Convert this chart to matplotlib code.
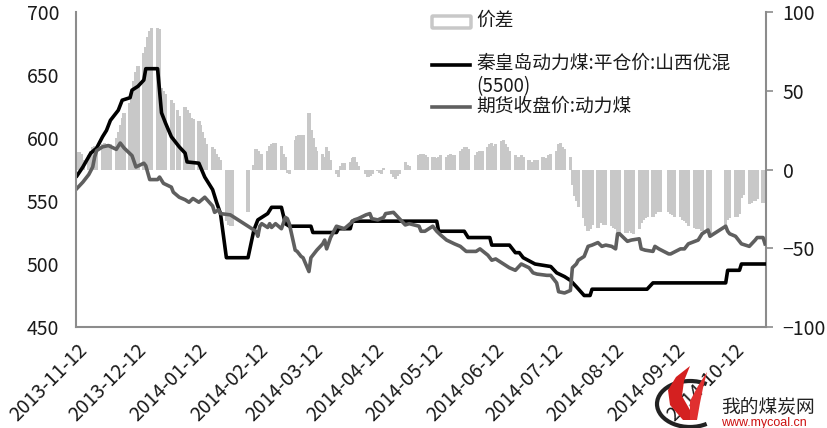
import matplotlib
matplotlib.use('Agg')
import matplotlib.pyplot as plt
import matplotlib.patches as mpatches
import matplotlib.transforms as mtransforms
from matplotlib.lines import Line2D
import pandas as pd

plt.rcParams['font.family'] = ['Noto Sans CJK SC', 'DejaVu Sans']

# trading days for the spread bars
start_day = '2013-11-12'
end_day = '2014-10-28'
holidays = ['2014-01-01', '2014-01-31', '2014-02-03', '2014-02-04', '2014-02-05',
            '2014-02-06', '2014-04-07', '2014-05-01', '2014-05-02', '2014-06-02',
            '2014-09-08', '2014-10-01', '2014-10-02', '2014-10-03', '2014-10-06',
            '2014-10-07']

# 价差, one value per trading day (week by week)
spread = [
    8, 11, 10, 6,
    9, 12, 14, 15, 15,
    16, 17, 16, 15, 16,
    20, 24, 28, 33, 36,
    42, 46, 56, 62, 66,
    74, 78, 84, 88, 90,
    90, 89, 52, 50, 48,
    44, 42, 38, 34,
    40, 38, 36, 33, 32,
    31, 28, 24, 20, 16,
    14, 13, 10, 8, 6,
    -33, -35, -36, -36,
    -27,
    3, 13, 12, 8, 10,
    12, 15, 16, 17, 17,
    15, 10, 8, -2, -3,
    19, 21, 22, 22, 22,
    36, 25, 20, 14, 12,
    10, 8, 14, 12, 6,
    -3, -5, 2, 4, 4,
    5, 7, 8, 5, 2,
    -3, -5, -4, -3,
    -1, -2, -3, 1, 0,
    -3, -5, -6, -4, -3,
    5, 3, 2,
    9, 10, 10, 9, 8,
    8, 8, 7, 8, 9,
    8, 9, 10, 9, 9,
    12, 13, 14, 14, 13,
    9, 11, 12, 12,
    14, 16, 17, 15, 16,
    18, 19, 16, 14, 12,
    9, 8, 8, 9, 8,
    6, 5, 5, 6, 6,
    8, 7, 6, 9, 10,
    12, 16, 17, 14, 13,
    8, -10, -17, -20, -24,
    -31, -36, -39, -38, -35,
    -37, -34, -34, -35, -35,
    -36, -37, -38, -40, -40,
    -40, -40, -39, -40, -41,
    -38, -34, -32, -31, -30,
    -30, -28, -27, -26, -27,
    -27, -28, -29, -30,
    -30, -32, -33, -34, -36,
    -37, -38, -38, -38, -39,
    -39, -40,
    -35, -32, -31,
    -30, -30, -28, -18, -16,
    -22, -21, -20, -20, -19,
    -21, -19,
]

# 秦皇岛动力煤:平仓价:山西优混(5500)
spot_dates = ['2013-11-12', '2013-11-15', '2013-11-19', '2013-11-22', '2013-11-25',
              '2013-11-27', '2013-11-29', '2013-12-03', '2013-12-05', '2013-12-09',
              '2013-12-10', '2013-12-13', '2013-12-16', '2013-12-17', '2013-12-23',
              '2013-12-25', '2013-12-27', '2013-12-30', '2014-01-03', '2014-01-06',
              '2014-01-07', '2014-01-13', '2014-01-16', '2014-01-20', '2014-01-22',
              '2014-01-24', '2014-01-27', '2014-02-07', '2014-02-10', '2014-02-12',
              '2014-02-17', '2014-02-19', '2014-02-24', '2014-02-26', '2014-02-28',
              '2014-03-11', '2014-03-12', '2014-03-24', '2014-03-25', '2014-03-31',
              '2014-04-01', '2014-05-14', '2014-05-15', '2014-05-28', '2014-05-30',
              '2014-06-10', '2014-06-11', '2014-06-20', '2014-06-23', '2014-06-25',
              '2014-06-27', '2014-07-03', '2014-07-11', '2014-07-14', '2014-07-18',
              '2014-07-21', '2014-07-24', '2014-07-28', '2014-07-31', '2014-08-01',
              '2014-08-29', '2014-09-01', '2014-10-08', '2014-10-09', '2014-10-15',
              '2014-10-16', '2014-10-28']
spot_prices = [570, 577, 588, 592, 601,
               606, 614, 622, 630, 632,
               638, 641, 646, 655, 655,
               620, 612, 601, 593, 588,
               581, 580, 569, 559, 549,
               540, 505, 505, 527, 535,
               540, 545, 545, 532, 530,
               530, 525, 525, 528, 528,
               534, 534, 526, 526, 521,
               521, 515, 515, 509, 509,
               505, 500, 498, 493, 490,
               487, 482, 475, 475, 480,
               480, 485, 485, 495, 495,
               500, 500]

# 期货收盘价:动力煤
fut_dates = ['2013-11-12', '2013-11-15', '2013-11-18', '2013-11-20', '2013-11-21',
             '2013-11-22', '2013-11-25', '2013-11-28', '2013-12-02', '2013-12-04',
             '2013-12-06', '2013-12-10', '2013-12-12', '2013-12-16', '2013-12-17',
             '2013-12-19', '2013-12-23', '2013-12-24', '2013-12-26', '2013-12-30',
             '2013-12-31', '2014-01-03', '2014-01-06', '2014-01-08', '2014-01-10',
             '2014-01-13', '2014-01-16', '2014-01-20', '2014-01-21', '2014-01-23',
             '2014-01-24', '2014-01-29', '2014-01-30', '2014-02-11', '2014-02-12',
             '2014-02-13', '2014-02-14', '2014-02-17', '2014-02-18', '2014-02-19',
             '2014-02-21', '2014-02-24', '2014-02-26', '2014-02-27', '2014-02-28',
             '2014-03-03', '2014-03-04', '2014-03-06', '2014-03-07', '2014-03-10',
             '2014-03-11', '2014-03-14', '2014-03-17', '2014-03-18', '2014-03-19',
             '2014-03-21', '2014-03-24', '2014-03-28', '2014-03-31', '2014-04-02',
             '2014-04-04', '2014-04-08', '2014-04-10', '2014-04-11', '2014-04-14',
             '2014-04-17', '2014-04-18', '2014-04-22', '2014-04-25', '2014-04-28',
             '2014-04-30', '2014-05-05', '2014-05-06', '2014-05-08', '2014-05-12',
             '2014-05-14', '2014-05-16', '2014-05-19', '2014-05-23', '2014-05-26',
             '2014-05-29', '2014-06-03', '2014-06-05', '2014-06-09', '2014-06-11',
             '2014-06-13', '2014-06-17', '2014-06-20', '2014-06-23', '2014-06-26',
             '2014-06-30', '2014-07-02', '2014-07-04', '2014-07-09', '2014-07-11',
             '2014-07-14', '2014-07-15', '2014-07-18', '2014-07-21', '2014-07-22',
             '2014-07-24', '2014-07-25', '2014-07-28', '2014-07-30', '2014-08-01',
             '2014-08-04', '2014-08-06', '2014-08-08', '2014-08-11', '2014-08-13',
             '2014-08-14', '2014-08-15', '2014-08-19', '2014-08-21', '2014-08-25',
             '2014-08-26', '2014-08-28', '2014-09-01', '2014-09-02', '2014-09-04',
             '2014-09-09', '2014-09-10', '2014-09-15', '2014-09-17', '2014-09-19',
             '2014-09-24', '2014-09-26', '2014-09-29', '2014-09-30', '2014-10-08',
             '2014-10-09', '2014-10-10', '2014-10-13', '2014-10-16', '2014-10-20',
             '2014-10-23', '2014-10-24', '2014-10-27', '2014-10-28']
fut_prices = [560, 565, 571, 577, 585,
              590, 593, 594, 591, 596,
              592, 586, 577, 580, 578,
              567, 567, 569, 564, 561,
              557, 553, 551, 549, 552,
              549, 553, 546, 541, 543,
              540, 539, 538, 526, 522,
              530, 532, 529, 532, 529,
              532, 528, 537, 536, 532,
              511, 510, 506, 505, 494,
              505, 511, 516, 519, 512,
              521, 530, 528, 532, 535,
              536, 539, 540, 536, 535,
              537, 540, 541, 536, 531,
              532, 530, 526, 526, 530,
              526, 523, 519, 516, 514,
              510, 510, 512, 507, 503,
              504, 500, 497, 495, 500,
              497, 493, 492, 491, 491,
              485, 478, 477, 479, 497,
              500, 503, 506, 514, 515,
              517, 514, 515, 514, 512,
              524, 524, 518, 519, 520,
              512, 511, 510, 514, 512,
              508, 508, 512, 512, 516,
              519, 524, 527, 522, 530,
              526, 524, 522, 516, 514,
              519, 521, 521, 516]

tick_labels = ['2013-11-12', '2013-12-12', '2014-01-12', '2014-02-12', '2014-03-12',
               '2014-04-12', '2014-05-12', '2014-06-12', '2014-07-12', '2014-08-12',
               '2014-09-12', '2014-10-12']

trade_days = pd.bdate_range(start_day, end_day, freq='C', holidays=holidays)
assert len(trade_days) == len(spread), (len(trade_days), len(spread))

axis_grey = '#8c8c8c'
text_col = '#1a1a1a'

fig = plt.figure(figsize=(8.28, 4.28), dpi=100)
# bars live on the base axes (right scale) so the lines are drawn over them
ax = fig.add_axes([76 / 828, 1 - 327 / 428, 690 / 828, 315 / 428])
ax2 = ax.twinx()

ax.bar(trade_days, spread, width=1.7, color='#c8c8c8', linewidth=0, antialiased=False)
ax.set_ylim(-100, 100)
ax.set_yticks([-100, -50, 0, 50, 100])
ax.yaxis.tick_right()
ax.tick_params(axis='y', length=5, width=1.2, color=axis_grey, labelsize=14,
               labelcolor=text_col, pad=7)

ax2.plot(pd.to_datetime(spot_dates), spot_prices, color='black', lw=2.6)
ax2.plot(pd.to_datetime(fut_dates), fut_prices, color='#5f5f5f', lw=2.6)
ax2.set_ylim(450, 700)
ax2.set_yticks([450, 500, 550, 600, 650, 700])
ax2.yaxis.tick_left()
ax2.tick_params(axis='y', length=0, labelsize=14, labelcolor=text_col, pad=12)

ax.set_xlim(trade_days[0] - pd.Timedelta(hours=12), trade_days[-1] + pd.Timedelta(hours=12))
ax.set_xticks(pd.to_datetime(tick_labels))
ax.set_xticklabels(tick_labels, rotation=45, ha='right', va='top', rotation_mode='anchor')
ax.tick_params(axis='x', length=0, labelsize=14, labelcolor=text_col, pad=9)

for a in (ax, ax2):
    a.spines['top'].set_visible(False)
    for s in a.spines.values():
        s.set_color(axis_grey)
        s.set_linewidth(1.5)
ax.spines['left'].set_visible(False)
ax2.spines['right'].set_visible(False)
ax2.spines['bottom'].set_visible(False)

# legend, placed in image pixels (y down)
px = mtransforms.Affine2D().scale(1 / 828, -1 / 428).translate(0, 1) + fig.transFigure
fig.patches.append(mpatches.FancyBboxPatch((433, 17), 37, 10, boxstyle='round,pad=1',
                                           transform=px, facecolor='white',
                                           edgecolor='#c8c8c8', lw=2.5))
fig.lines.append(Line2D([432, 470], [65, 65], transform=px, color='black', lw=2.6))
fig.lines.append(Line2D([432, 470], [107, 107], transform=px, color='#5f5f5f', lw=2.6))
leg_kw = dict(transform=px, va='center', ha='left', fontsize=13.5, color=text_col)
fig.text(476, 20, '价差', **leg_kw)
fig.text(476, 63, '秦皇岛动力煤:平仓价:山西优混', **leg_kw)
fig.text(476, 87, '(5500)', **leg_kw)
fig.text(476, 106, '期货收盘价:动力煤', **leg_kw)

# site watermark
fig.patches.append(mpatches.Arc((690, 404), 66, 46, theta1=50, theta2=310,
                                transform=px, color='#222222', lw=3))
fig.patches.append(mpatches.Polygon([(683, 420), (670, 405), (668, 390), (676, 377),
                                     (690, 366), (684, 381), (682, 396), (690, 410),
                                     (693, 420)], closed=True, transform=px,
                                    facecolor='#d42020', edgecolor='none'))
fig.patches.append(mpatches.Polygon([(690, 420), (690, 401), (698, 386), (707, 372),
                                     (703, 388), (700, 403), (697, 420)], closed=True,
                                    transform=px, facecolor='#e03030', edgecolor='none'))
fig.text(721, 407, '我的煤炭网', transform=px, va='center', ha='left', fontsize=13.5,
         color='#222222')
fig.text(721, 423, 'www.mycoal.cn', transform=px, va='center', ha='left', fontsize=9,
         color='#cc1111', family=['Liberation Sans', 'DejaVu Sans'])

fig.savefig('out.png', dpi=100)
